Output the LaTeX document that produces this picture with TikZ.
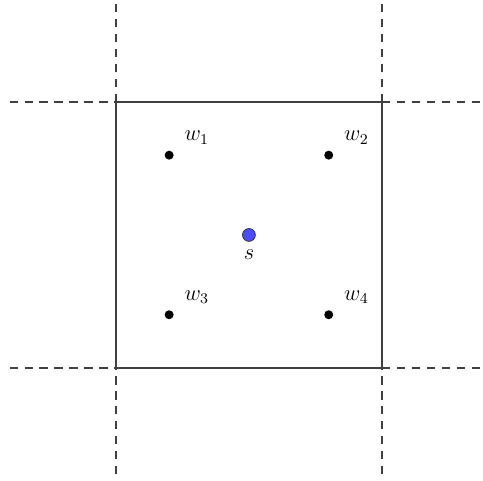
\documentclass[tikz,border=0pt]{standalone}
\usetikzlibrary{positioning}
\begin{document}
\begin{tikzpicture}[scale=1.0]
  \tikzset{cell line/.style={line width=1.1pt,black!75},
    ext line/.style={line width=1.1pt,black!75,dash pattern=on 4.5pt off 3.5pt},
    site/.style={circle,fill=black,inner sep=0pt,minimum size=4.8pt},
    source/.style={circle,draw=black!80,fill=blue!70,inner sep=0pt,minimum size=6.9pt}}
  \useasboundingbox (-2.18,-2.124) rectangle (6.90,6.917);
  % dashed neighbouring cells
  \draw[ext line] (-2,0) -- (0,0);
  \draw[ext line] (5,0) -- (7,0);
  \draw[ext line] (-2,5) -- (0,5);
  \draw[ext line] (5,5) -- (7,5);
  \draw[ext line] (0,-2) -- (0,0);
  \draw[ext line] (0,5) -- (0,7);
  \draw[ext line] (5,-2) -- (5,0);
  \draw[ext line] (5,5) -- (5,7);
  % the cell
  \draw[cell line] (0,0) rectangle (5,5);
  % points
  \node[site] (w1) at (1,4) {};
  \node[site] (w2) at (4,4) {};
  \node[site] (w3) at (1,1) {};
  \node[site] (w4) at (4,1) {};
  \node[source] (s) at (2.5,2.5) {};
  \node[font=\large,above right=0.02cm and 0.1cm of w1] (w1lab) {$w_1$};
  \node[font=\large,above right=0.02cm and 0.1cm of w2] (w2lab) {$w_2$};
  \node[font=\large,above right=0.02cm and 0.1cm of w3] (w3lab) {$w_3$};
  \node[font=\large,above right=0.02cm and 0.1cm of w4] (w4lab) {$w_4$};
  \node[font=\large,below=0.02cm of s] (slab) {$s$};
\end{tikzpicture}
\end{document}
